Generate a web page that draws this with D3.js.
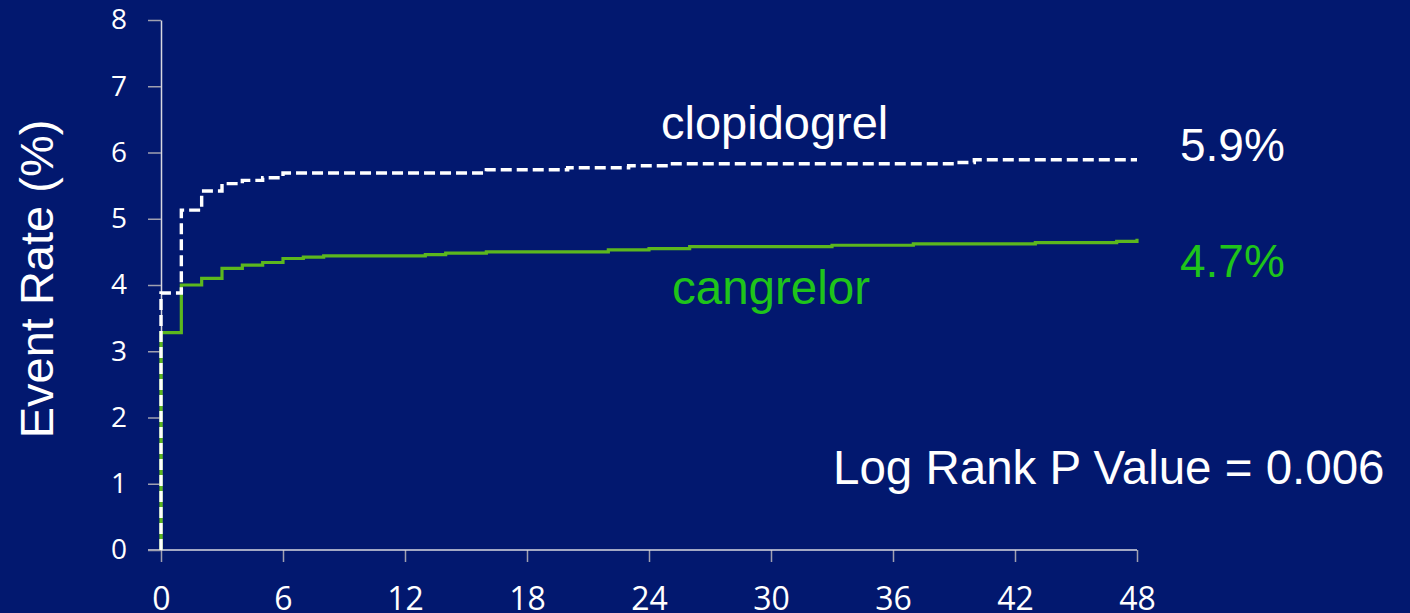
<!DOCTYPE html>
<html>
<head>
<meta charset="utf-8">
<script src="https://cdn.jsdelivr.net/npm/d3@7"></script>
<style>
  body { margin: 0; background: #02186f; }
  svg { display: block; }
</style>
</head>
<body>
<div id="chart"></div>
<script>
// data (hours, event rate %)
var clopidogrelHours = [0, 0, 1, 2, 3, 4, 5, 6, 16, 20, 23, 25, 39, 40, 48];
var clopidogrelRate = [0, 3.88, 5.13, 5.42, 5.53, 5.58, 5.62, 5.69, 5.74, 5.77, 5.80, 5.83, 5.85, 5.89, 5.89];

var cangrelorHours = [0, 0, 1, 2, 3, 4, 5, 6, 7, 8, 13, 14, 16, 22, 24, 26, 33, 37, 43, 47, 48];
var cangrelorRate = [0, 3.28, 4.00, 4.10, 4.25, 4.30, 4.34, 4.40, 4.42, 4.44, 4.46, 4.48, 4.50, 4.53, 4.55, 4.58, 4.60, 4.62, 4.64, 4.66, 4.70];

var xTicks = [0, 6, 12, 18, 24, 30, 36, 42, 48];
var yTicks = [0, 1, 2, 3, 4, 5, 6, 7, 8];

var seriesLabels = ["clopidogrel", "cangrelor"];
var finalLabels = ["5.9%", "4.7%"];
var pLabel = "Log Rank P Value = 0.006";
var yTitle = "Event Rate (%)";

var W = 1410, H = 613;
var margin = {top: 20, right: 273, bottom: 63, left: 161};

var svg = d3.select("#chart").append("svg")
    .attr("width", W)
    .attr("height", H);

svg.append("rect")
    .attr("width", W)
    .attr("height", H)
    .attr("fill", "#02186f");

var x = d3.scaleLinear()
    .domain([0, 48])
    .range([margin.left, W - margin.right]);

var y = d3.scaleLinear()
    .domain([0, 8])
    .range([H - margin.bottom, margin.top]);

// x axis
var xAxis = svg.append("g")
    .attr("transform", "translate(0," + y(0) + ")")
    .call(d3.axisBottom(x).tickValues(xTicks).tickSize(12).tickPadding(10).tickSizeOuter(0));
xAxis.select(".domain").remove();
xAxis.append("line")
    .attr("x1", margin.left - 13)
    .attr("x2", x(48))
    .attr("stroke", "#d8d8e0")
    .attr("stroke-width", 1.5);
xAxis.selectAll(".tick line").attr("stroke", "#a0a0b0").attr("stroke-width", 1.5);
xAxis.selectAll(".tick text")
    .attr("fill", "#ffffff")
    .attr("dy", null)
    .attr("y", 60)
    .style("font-family", "'Open Sans', sans-serif")
    .style("font-size", "32px");

// y axis
var yAxis = svg.append("g")
    .attr("transform", "translate(" + x(0) + ",0)")
    .call(d3.axisLeft(y).tickValues(yTicks).tickSize(13).tickPadding(21).tickSizeOuter(0));
yAxis.select(".domain")
    .attr("stroke", "#d8d8e0")
    .attr("stroke-width", 1.5);
yAxis.selectAll(".tick line").attr("stroke", "#a0a0b0").attr("stroke-width", 1.5);
yAxis.selectAll(".tick text")
    .attr("fill", "#ffffff")
    .style("font-family", "'Open Sans', sans-serif")
    .style("font-size", "28px");

var line = d3.line()
    .x(function(d) { return x(d[0]); })
    .y(function(d) { return y(d[1]); })
    .curve(d3.curveStepAfter);

var cangData = d3.zip(cangrelorHours, cangrelorRate);
var clopData = d3.zip(clopidogrelHours, clopidogrelRate);

svg.append("path")
    .datum(cangData)
    .attr("fill", "none")
    .attr("stroke", "#5cb71e")
    .attr("stroke-width", 3.2)
    .attr("d", line);

svg.append("path")
    .datum(clopData)
    .attr("fill", "none")
    .attr("stroke", "#ffffff")
    .attr("stroke-width", 3.4)
    .attr("stroke-dasharray", "11,5")
    .attr("d", line);

// labels
var bigFont = "'Liberation Sans', Arial, sans-serif";

svg.append("text")
    .attr("x", 661).attr("y", 139)
    .attr("fill", "#ffffff")
    .style("font-family", bigFont).style("font-size", "47px")
    .text(seriesLabels[0]);

svg.append("text")
    .attr("x", 672).attr("y", 304)
    .attr("fill", "#1fc41a")
    .style("font-family", bigFont).style("font-size", "47.5px")
    .text(seriesLabels[1]);

svg.append("text")
    .attr("x", 1180).attr("y", 161)
    .attr("fill", "#ffffff")
    .style("font-family", bigFont).style("font-size", "46px")
    .text(finalLabels[0]);

svg.append("text")
    .attr("x", 1180).attr("y", 277)
    .attr("fill", "#1fc41a")
    .style("font-family", bigFont).style("font-size", "46px")
    .text(finalLabels[1]);

svg.append("text")
    .attr("x", 833).attr("y", 484)
    .attr("fill", "#ffffff")
    .style("font-family", bigFont).style("font-size", "47.5px")
    .text(pLabel);

svg.append("text")
    .attr("transform", "translate(53,279) rotate(-90)")
    .attr("text-anchor", "middle")
    .attr("fill", "#ffffff")
    .style("font-family", bigFont).style("font-size", "47px")
    .text(yTitle);
</script>
</body>
</html>
